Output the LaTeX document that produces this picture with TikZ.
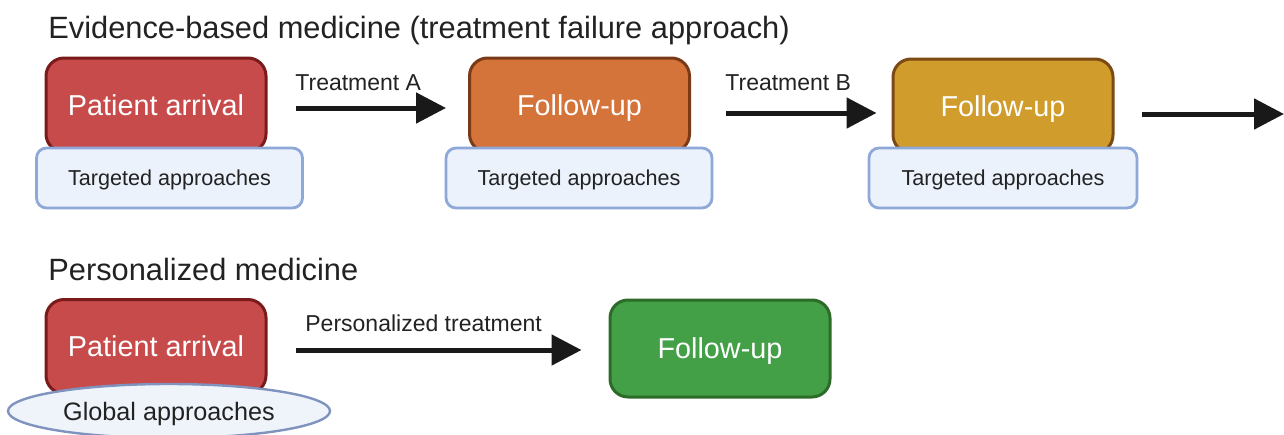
\documentclass[tikz,border=0pt]{standalone}
\usepackage{fontspec}
\setmainfont{Liberation Sans}
\usetikzlibrary{arrows.meta,shapes.geometric}

\definecolor{txt}{HTML}{222222}
\definecolor{redfill}{HTML}{C84B4B}
\definecolor{redline}{HTML}{7A1A1A}
\definecolor{orangefill}{HTML}{D4733A}
\definecolor{orangeline}{HTML}{7B3A17}
\definecolor{goldfill}{HTML}{D09C2B}
\definecolor{goldline}{HTML}{7C4A15}
\definecolor{greenfill}{HTML}{43A047}
\definecolor{greenline}{HTML}{2D6B28}
\definecolor{tagfill}{HTML}{EBF2FC}
\definecolor{tagline}{HTML}{8EA8D8}
\definecolor{globfill}{HTML}{EFF3FA}
\definecolor{globline}{HTML}{7F93BE}

\tikzset{
  stage/.style={rounded corners=9pt, line width=1.5pt, minimum width=110pt,
    minimum height=47pt, text=white, inner sep=0pt, text height=10.4pt, text depth=0pt,
    font=\fontsize{14.4}{17}\selectfont},
  tagbox/.style={rounded corners=5pt, line width=1.4pt, draw=tagline, fill=tagfill,
    minimum width=133pt, minimum height=30pt, text=txt, inner sep=0pt,
    text height=7.8pt, text depth=0pt,
    font=\fontsize{10.8}{13}\selectfont},
  heading/.style={anchor=base west, text=txt, inner sep=0pt,
    font=\fontsize{15.4}{18}\selectfont},
  steplabel/.style={anchor=base west, text=txt, inner sep=0pt,
    font=\fontsize{11.5}{14}\selectfont},
  flow/.style={line width=2.5pt, draw=black!90, -{Triangle[length=15pt,width=15pt]}}
}

\begin{document}
\begin{tikzpicture}[x=0.5pt,y=-0.5pt]
\useasboundingbox (0,0) rectangle (1284,434);

% headings
\node[heading] (h1) at (48,38) {Evidence-based medicine (treatment failure approach)};
\node[heading] (h2) at (48,280) {Personalized medicine};

% top row: treatment failure sequence
\node[stage, fill=redfill, draw=redline] (pa1) at (156,105) {Patient arrival};
\node[tagbox] (t1) at (169.5,178) {Targeted approaches};

\node[stage, fill=orangefill, draw=orangeline] (fu1) at (579.5,105) {Follow-up};
\node[tagbox] (t2) at (579,178) {Targeted approaches};

\node[stage, fill=goldfill, draw=goldline] (fu2) at (1003,106) {Follow-up};
\node[tagbox, minimum width=134pt] (t3) at (1003,178) {Targeted approaches};

\coordinate (next) at (1284,114);

\draw[flow, shorten <=14pt, shorten >=11pt] ([yshift=-1.5pt]pa1.east) -- ([yshift=-1.5pt]fu1.west);
\node[steplabel] (la) at (295,90) {Treatment A};

\draw[flow, shorten <=17.5pt, shorten >=7.5pt] ([yshift=-4pt]fu1.east) -- ([yshift=-3.5pt]fu2.west);
\node[steplabel] (lb) at (725,90) {Treatment B};

\draw[flow, shorten <=13.5pt] ([yshift=-4pt]fu2.east) -- (next);

% bottom row: personalized route
\node[stage, fill=redfill, draw=redline] (pa2) at (156,346.5) {Patient arrival};
\node[ellipse, draw=globline, fill=globfill, line width=1.2pt, minimum width=161pt,
  minimum height=27pt, inner sep=0pt, text=txt, text height=9pt, text depth=0pt,
  font=\fontsize{12.6}{15}\selectfont]
  (glob) at (169,411) {Global approaches};

\node[stage, fill=greenfill, draw=greenline, minimum height=48.5pt] (fu3) at (720,348.5) {Follow-up};

\draw[flow, shorten <=14pt, shorten >=13.5pt] ([yshift=-1.75pt]pa2.east) -- ([yshift=-0.75pt]fu3.west);
\node[steplabel] (lp) at (305,331) {Personalized treatment};

\end{tikzpicture}
\end{document}
